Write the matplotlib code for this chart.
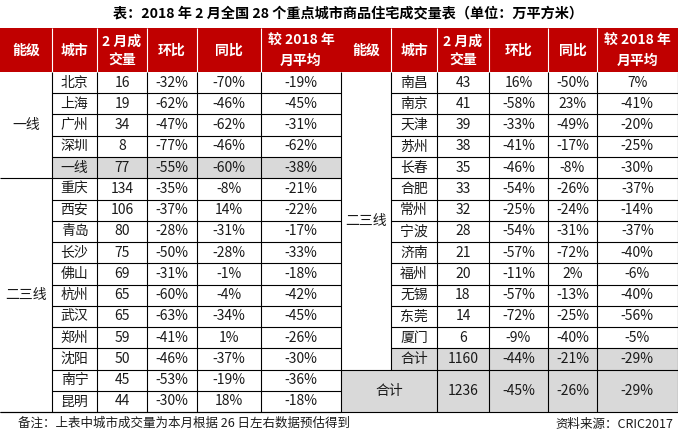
import matplotlib.pyplot as plt
from matplotlib.patches import Rectangle

plt.rcParams['font.family'] = ['Noto Sans CJK SC', 'DejaVu Sans']

#####################################################################
# Data

title = '表：2018 年 2 月全国 28 个重点城市商品住宅成交量表（单位：万平方米）'
headers = ['能级', '城市', '2 月成\n交量', '环比', '同比', '较 2018 年\n月平均']

left_tiers = ['一线', '二三线']
left_tier_rows = [5, 11]
left_cities = ['北京', '上海', '广州', '深圳', '一线', '重庆', '西安', '青岛', '长沙',
               '佛山', '杭州', '武汉', '郑州', '沈阳', '南宁', '昆明']
left_vol = [16, 19, 34, 8, 77, 134, 106, 80, 75, 69, 65, 65, 59, 50, 45, 44]
left_mom = [-32, -62, -47, -77, -55, -35, -37, -28, -50, -31, -60, -63, -41, -46, -53, -30]
left_yoy = [-70, -46, -62, -46, -60, -8, 14, -31, -28, -1, -4, -34, 1, -37, -19, 18]
left_avg = [-19, -45, -31, -62, -38, -21, -22, -17, -33, -18, -42, -45, -26, -30, -36, -18]

right_tier = '二三线'
right_cities = ['南昌', '南京', '天津', '苏州', '长春', '合肥', '常州', '宁波', '济南',
                '福州', '无锡', '东莞', '厦门', '合计']
right_vol = [43, 41, 39, 38, 35, 33, 32, 28, 21, 20, 18, 14, 6, 1160]
right_mom = [16, -58, -33, -41, -46, -54, -25, -54, -57, -11, -57, -72, -9, -44]
right_yoy = [-50, 23, -49, -17, -8, -26, -24, -31, -72, 2, -13, -25, -40, -21]
right_avg = [7, -41, -20, -25, -30, -37, -14, -37, -40, -6, -40, -56, -5, -29]

total_label = '合计'
total_vals = [1236, -45, -26, -29]

note = '备注：上表中城市成交量为本月根据 26 日左右数据预估得到'
source = '资料来源：CRIC2017'

#####################################################################
# Layout (pixel coords)

W, H = 678, 436
RED = '#C00000'
GRAY = '#D9D9D9'
TXT = '#1a1a1a'
LW = 0.8

head_top, head_bot = 28, 72
rh = 21.25
n_rows = 16
bottom = head_bot + n_rows * rh

left_x = [0, 52, 97, 147, 197, 261, 341]
right_x = [341, 391, 437, 489, 548, 597, 677.5]

fig = plt.figure(figsize=(W / 100, H / 100), dpi=100)
ax = fig.add_axes([0, 0, 1, 1])
ax.set_xlim(0, W)
ax.set_ylim(H, 0)
ax.axis('off')

def row_y(i):
    return head_bot + i * rh

def mid(a, b):
    return (a + b) / 2

def hline(y, x0, x1, c='black'):
    ax.plot([x0, x1], [y, y], color=c, lw=LW, solid_capstyle='butt')

def vline(x, y0, y1, c='black'):
    ax.plot([x, x], [y0, y1], color=c, lw=LW, solid_capstyle='butt')

def cell(x, y, s):
    ax.text(x, y, s, ha='center', va='center', fontsize=10, color=TXT)

def pct(v):
    return f'{v}%'

# title
ax.text(348, 14, title, ha='center', va='center', fontsize=10.2, fontweight='bold', color='black')

# header
ax.add_patch(Rectangle((0, head_top), W, head_bot - head_top, color=RED, lw=0))
for xs in (left_x, right_x):
    for j, h in enumerate(headers):
        ax.text(mid(xs[j], xs[j + 1]), mid(head_top, head_bot) + 1, h, ha='center', va='center',
                fontsize=10, fontweight='bold', color='white', linespacing=1.5)
    for x in xs[1:-1]:
        vline(x, head_top, head_bot, c='white')

# gray rows
ax.add_patch(Rectangle((left_x[1], row_y(4)), left_x[-1] - left_x[1], rh, color=GRAY, lw=0))
ax.add_patch(Rectangle((right_x[1], row_y(13)), right_x[-1] - right_x[1], rh, color=GRAY, lw=0))
ax.add_patch(Rectangle((right_x[0], row_y(14)), right_x[-1] - right_x[0], 2 * rh, color=GRAY, lw=0))

# left table
for i in range(n_rows):
    yc = mid(row_y(i), row_y(i + 1))
    vals = [left_cities[i], left_vol[i], pct(left_mom[i]), pct(left_yoy[i]), pct(left_avg[i])]
    for j, v in enumerate(vals):
        cell(mid(left_x[j + 1], left_x[j + 2]), yc, v)
start = 0
for t, n in zip(left_tiers, left_tier_rows):
    cell(mid(left_x[0], left_x[1]), mid(row_y(start), row_y(start + n)), t)
    start += n
    hline(row_y(start), left_x[0], left_x[1])
for i in range(1, n_rows + 1):
    hline(row_y(i), left_x[1], left_x[-1])
for x in left_x[1:]:
    vline(x, head_bot, bottom)

# right table
nr = len(right_cities)
for i in range(nr):
    yc = mid(row_y(i), row_y(i + 1))
    vals = [right_cities[i], right_vol[i], pct(right_mom[i]), pct(right_yoy[i]), pct(right_avg[i])]
    for j, v in enumerate(vals):
        cell(mid(right_x[j + 1], right_x[j + 2]), yc, v)
cell(mid(right_x[0], right_x[1]), mid(row_y(0), row_y(nr)), right_tier)
ty = mid(row_y(nr), bottom)
cell(mid(right_x[0], right_x[2]), ty, total_label)
cell(mid(right_x[2], right_x[3]), ty, total_vals[0])
for j, v in enumerate(total_vals[1:]):
    cell(mid(right_x[j + 3], right_x[j + 4]), ty, pct(v))
for i in range(1, nr):
    hline(row_y(i), right_x[1], right_x[-1])
hline(row_y(nr), right_x[0], right_x[-1])
hline(bottom, 0, W)
vline(right_x[1], head_bot, row_y(nr))
for x in right_x[2:]:
    vline(x, head_bot, bottom)

# footer
ax.text(18, 423, note, ha='left', va='center', fontsize=9, color=TXT)
ax.text(673, 424, source, ha='right', va='center', fontsize=9, color=TXT)

fig.savefig('out.png', dpi=100)
